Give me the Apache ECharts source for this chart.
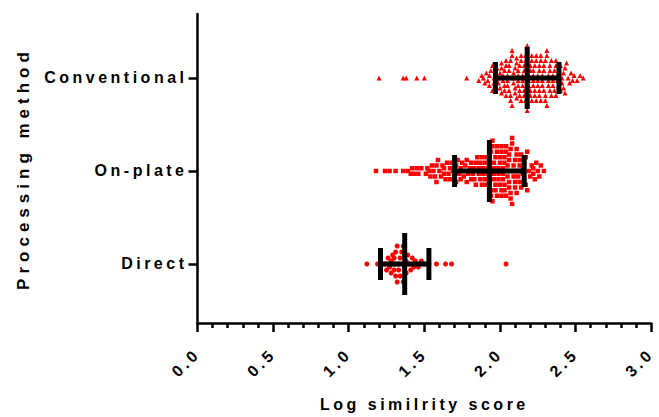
<html>
<head>
    <meta charset="utf-8">
    <script src="https://cdn.jsdelivr.net/npm/echarts@6/dist/echarts.min.js"></script>
    <style>
        body { margin: 0; background: #fff; }
        #chart { width: 659px; height: 417px; }
        #chart text { letter-spacing: 3.5px; }
        #chart text[style*="17px"], #chart text[font-size="17"] { letter-spacing: 5px; }
    </style>
</head>
<body>
    <div id="chart"></div>
    <script>
        // groups, bottom to top
        var categories = ['Direct', 'On-plate', 'Conventional'];

        var direct = [1.12, 1.19, 1.22, 1.24, 1.25, 1.26, 1.27, 1.28, 1.28, 1.29,
            1.30, 1.30, 1.30, 1.31, 1.31, 1.32, 1.32, 1.33, 1.33, 1.34, 1.34,
            1.35, 1.36, 1.36, 1.37, 1.38, 1.38, 1.39, 1.40, 1.41, 1.42,
            1.43, 1.44, 1.46, 1.48, 1.50, 1.53, 1.58, 1.64, 1.68, 2.04];

        var onPlate = [1.18, 1.24, 1.27, 1.31, 1.36,
            1.39, 1.41, 1.42, 1.43, 1.45, 1.46, 1.48,
            1.51, 1.52, 1.53, 1.54, 1.55, 1.56, 1.57, 1.58, 1.58, 1.59,
            1.60, 1.61, 1.62, 1.63, 1.63, 1.64, 1.65, 1.66, 1.67, 1.67, 1.68, 1.69,
            1.70, 1.71, 1.71, 1.72, 1.73, 1.74, 1.74, 1.75, 1.76, 1.76, 1.77, 1.78, 1.78, 1.79,
            1.80, 1.81, 1.81, 1.82, 1.83, 1.83, 1.84, 1.84,
            1.85, 1.86, 1.86, 1.87, 1.87, 1.88, 1.88, 1.89, 1.89,
            1.90, 1.90, 1.91, 1.91, 1.92, 1.92, 1.92, 1.93, 1.93, 1.93, 1.94, 1.94, 1.94,
            1.95, 1.95, 1.95, 1.96, 1.96, 1.96, 1.96, 1.97, 1.97, 1.97,
            1.98, 1.98, 1.98, 1.99, 1.99, 1.99,
            2.00, 2.00, 2.00, 2.01, 2.01, 2.01, 2.01, 2.02, 2.02, 2.02,
            2.03, 2.03, 2.03, 2.03, 2.04, 2.04, 2.04,
            2.05, 2.05, 2.05, 2.06, 2.06, 2.06, 2.06, 2.07, 2.07, 2.07,
            2.08, 2.08, 2.08, 2.09, 2.09, 2.09,
            2.10, 2.10, 2.10, 2.11, 2.11, 2.11, 2.12, 2.12, 2.13, 2.13, 2.13,
            2.14, 2.14,
            2.15, 2.15, 2.16, 2.16, 2.17, 2.17, 2.18, 2.18, 2.19,
            2.20, 2.21, 2.22, 2.22, 2.23, 2.24,
            2.25, 2.26, 2.27, 2.29];

        var conventional = [1.20, 1.36, 1.38, 1.45, 1.50, 1.78,
            1.86, 1.88, 1.89,
            1.90, 1.91, 1.92, 1.93, 1.93, 1.94,
            1.95, 1.95, 1.96, 1.96, 1.97, 1.97, 1.98, 1.99, 1.99,
            2.00, 2.00, 2.01, 2.01, 2.01, 2.02, 2.02, 2.03, 2.03, 2.03, 2.04, 2.04, 2.04,
            2.05, 2.05, 2.05, 2.06, 2.06, 2.06, 2.07, 2.07, 2.07, 2.08, 2.08, 2.08,
            2.09, 2.09, 2.09,
            2.10, 2.10, 2.10, 2.11, 2.11, 2.11, 2.12, 2.12, 2.12, 2.12, 2.13, 2.13, 2.13,
            2.14, 2.14, 2.14,
            2.15, 2.15, 2.15, 2.16, 2.16, 2.16, 2.16, 2.17, 2.17, 2.17, 2.18, 2.18, 2.18, 2.18,
            2.19, 2.19, 2.19,
            2.20, 2.20, 2.20, 2.20, 2.21, 2.21, 2.21, 2.22, 2.22, 2.22, 2.22, 2.23, 2.23, 2.23,
            2.24, 2.24, 2.24,
            2.25, 2.25, 2.25, 2.26, 2.26, 2.26, 2.26, 2.27, 2.27, 2.27, 2.28, 2.28, 2.28,
            2.29, 2.29, 2.29,
            2.30, 2.30, 2.30, 2.31, 2.31, 2.31, 2.32, 2.32, 2.32, 2.33, 2.33, 2.33, 2.34, 2.34,
            2.35, 2.35, 2.35, 2.36, 2.36, 2.37, 2.37, 2.37, 2.38, 2.38, 2.39, 2.39,
            2.40, 2.40, 2.41, 2.41, 2.42, 2.42, 2.43, 2.43, 2.44,
            2.45, 2.46, 2.47, 2.48, 2.49,
            2.51, 2.53, 2.55];

        // mean and SD as drawn
        var means = [1.37, 1.93, 2.18];
        var sds = [0.16, 0.23, 0.21];

        var font = "'Liberation Sans', Arial, sans-serif";
        var yMin = 0.3656, yMax = 3.688;
        var gridTop = 14, gridBottom = 94, gridLeft = 197.5, gridRight = 4;
        var xPx = (659 - gridLeft - gridRight) / 3;
        var yPx = (417 - gridTop - gridBottom) / (yMax - yMin);

        // prism-like column swarm: bin by pixel column, stack centred
        function swarm(values, cat, colW, step) {
            var cols = {};
            values.slice().sort(function (a, b) { return a - b; }).forEach(function (v) {
                var k = Math.round(v * xPx / colW);
                (cols[k] = cols[k] || []).push(v);
            });
            var pts = [];
            Object.keys(cols).forEach(function (k) {
                var list = cols[k], n = list.length;
                var slots = [];
                for (var i = 0; i < n; i++) slots.push(i - (n - 1) / 2);
                slots.sort(function (a, b) { return Math.abs(a) - Math.abs(b) || a - b; });
                list.forEach(function (v, i) {
                    pts.push([v, cat + slots[i] * step / yPx]);
                });
            });
            return pts;
        }

        function scatter(values, cat, symbol, size, colW, step) {
            return {
                type: 'scatter',
                symbol: symbol,
                symbolSize: size,
                itemStyle: { color: '#ff0000', opacity: 1 },
                data: swarm(values, cat, colW, step),
                z: 2
            };
        }

        var chart = echarts.init(document.getElementById('chart'), null, { renderer: 'svg' });
        chart.setOption({
            animation: false,
            backgroundColor: '#fff',
            grid: { left: gridLeft, right: gridRight, top: gridTop, bottom: gridBottom },
            xAxis: {
                type: 'value',
                min: 0,
                max: 3,
                interval: 0.5,
                name: 'Log similrity score',
                nameLocation: 'middle',
                nameGap: 73,
                nameTextStyle: { fontFamily: font, fontWeight: 'bold', fontSize: 16, color: '#000' },
                splitLine: { show: false },
                axisLine: { lineStyle: { color: '#000', width: 2.5 } },
                axisTick: { length: 9, lineStyle: { color: '#000', width: 2.5 } },
                minorTick: { show: true, splitNumber: 5, length: 5, lineStyle: { color: '#000', width: 2.5 } },
                axisLabel: {
                    rotate: 45,
                    margin: 28,
                    fontFamily: font,
                    fontWeight: 'bold',
                    fontSize: 16,
                    color: '#000',
                    formatter: function (v) { return v.toFixed(1); }
                }
            },
            yAxis: {
                type: 'value',
                min: yMin,
                max: yMax,
                name: 'Processing method',
                nameLocation: 'middle',
                nameGap: 166,
                nameTextStyle: { fontFamily: font, fontWeight: 'bold', fontSize: 17, color: '#000' },
                splitLine: { show: false },
                axisLine: { show: true, lineStyle: { color: '#000', width: 2.5 } },
                axisTick: { show: true, length: 9, customValues: [1, 2, 3], lineStyle: { color: '#000', width: 2.5 } },
                axisLabel: {
                    customValues: [1, 2, 3],
                    margin: 10,
                    fontFamily: font,
                    fontWeight: 'bold',
                    fontSize: 16,
                    color: '#000',
                    formatter: function (v) { return categories[Math.round(v) - 1]; }
                }
            },
            series: [
                scatter(direct, 1, 'circle', 5, 5, 6),
                scatter(onPlate, 2, 'rect', 4.5, 5, 5.5),
                scatter(conventional, 3, 'triangle', 5, 5, 5),
                {
                    type: 'custom',
                    z: 10,
                    data: means.map(function (m, i) { return [m, i + 1, sds[i]]; }),
                    renderItem: function (params, api) {
                        var m = api.value(0), c = api.value(1), s = api.value(2);
                        var p = api.coord([m, c]);
                        var lo = api.coord([m - s, c]);
                        var hi = api.coord([m + s, c]);
                        var st = { stroke: '#000', lineWidth: 5 };
                        return {
                            type: 'group',
                            children: [
                                { type: 'line', shape: { x1: lo[0], y1: p[1], x2: hi[0], y2: p[1] }, style: st },
                                { type: 'line', shape: { x1: p[0], y1: p[1] - 31, x2: p[0], y2: p[1] + 31 }, style: st },
                                { type: 'line', shape: { x1: lo[0], y1: p[1] - 16, x2: lo[0], y2: p[1] + 16 }, style: st },
                                { type: 'line', shape: { x1: hi[0], y1: p[1] - 16, x2: hi[0], y2: p[1] + 16 }, style: st }
                            ]
                        };
                    }
                }
            ]
        });
    </script>
</body>
</html>
